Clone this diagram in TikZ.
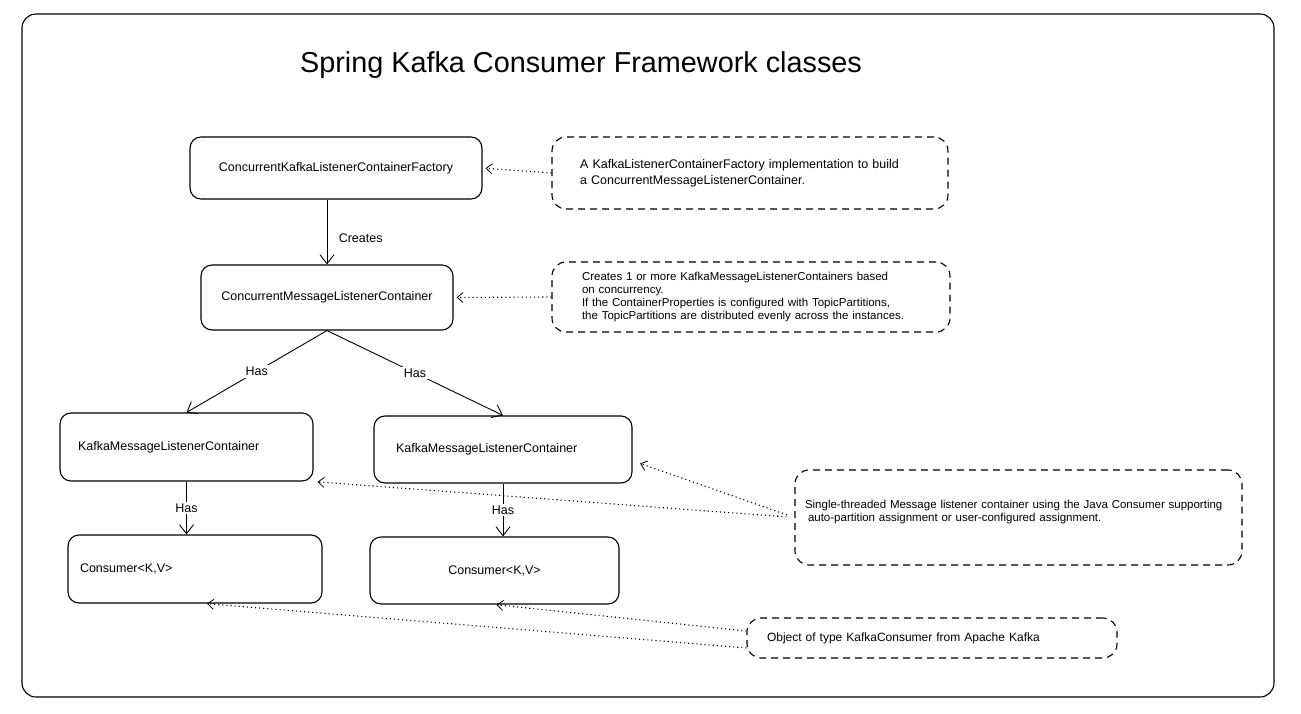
\documentclass[tikz,border=0pt]{standalone}
\usepackage{fontspec}
\setmainfont{Liberation Sans}
\usetikzlibrary{arrows.meta}
\begin{document}
\begin{tikzpicture}[x=1pt,y=1pt,
    cls/.style={draw, line width=1.1pt, rounded corners=11pt, inner sep=0pt, font=\fontsize{12.5}{15}\selectfont},
    note/.style={draw, line width=1.1pt, dash pattern=on 7pt off 5pt, rounded corners=14pt, align=left, inner ysep=0pt},
    has/.style={line width=0.9pt, -{Straight Barb[length=9pt,width=14pt]}},
    ref/.style={line width=1.1pt, dash pattern=on 1.1pt off 3pt, -{Straight Barb[length=6pt,width=10pt,line width=0.8pt]}},
    lbl/.style={fill=white, inner sep=2pt, font=\fontsize{12.5}{15}\selectfont}]
    \useasboundingbox (0,0) rectangle (1301,-714);
    \draw[line width=1.1pt, rounded corners=14pt] (22,-14) rectangle (1274,-697);
    \node[font=\fontsize{28.8}{34}\selectfont] (title) at (581,-65) {Spring Kafka Consumer Framework classes};
    \node[cls, minimum width=292pt, minimum height=62pt] (factory) at (336,-168) {ConcurrentKafkaListenerContainerFactory};
    \node[cls, minimum width=252pt, minimum height=65pt] (cmlc) at (327,-297.5) {ConcurrentMessageListenerContainer};
    \node[cls, inner xsep=18pt, text width=217pt, minimum height=68pt] (kmlcL) at (186.5,-447) {KafkaMessageListenerContainer};
    \node[cls, inner xsep=22pt, text width=214pt, minimum height=67pt] (kmlcR) at (503,-449.5) {KafkaMessageListenerContainer};
    \node[cls, inner xsep=12pt, text width=230pt, minimum height=68pt] (consL) at (195,-569) {Consumer<K,V>};
    \node[cls, minimum width=249pt, minimum height=67pt] (consR) at (494.5,-570.5) {Consumer<K,V>};
    \node[note, inner xsep=28pt, text width=340pt, minimum height=72pt, font=\fontsize{12.5}{16}\selectfont] (note1) at (750,-173)
        {A KafkaListenerContainerFactory implementation to build\\a ConcurrentMessageListenerContainer.};
    \node[note, inner xsep=30pt, text width=338pt, minimum height=70pt, font=\fontsize{11.5}{12.7}\selectfont] (note2) at (751,-297)
        {Creates 1 or more KafkaMessageListenerContainers based\\on concurrency.\\If the ContainerProperties is configured with TopicPartitions,\\the TopicPartitions are distributed evenly across the instances.};
    \node[note, inner xsep=10pt, text width=427pt, minimum height=95pt, font=\fontsize{11.5}{13}\selectfont] (note3) at (1018.5,-517.5)
        {Single-threaded Message listener container using the Java Consumer supporting\\\hspace*{3pt}auto-partition assignment or user-configured assignment.\\\mbox{}};
    \node[note, inner xsep=20pt, text width=330pt, minimum height=40pt, font=\fontsize{12}{14}\selectfont] (note4) at (932,-638)
        {Object of type KafkaConsumer from Apache Kafka};
    \draw[has] (factory.south -| cmlc.north) -- (cmlc.north) node[pos=0.6, right=8pt, font=\fontsize{12.5}{15}\selectfont] (creates) {Creates};
    \draw[has] (cmlc.south) -- (kmlcL.north) node[lbl, midway] (hasA) {Has};
    \draw[has] (cmlc.south) -- (kmlcR.north) node[lbl, midway] (hasB) {Has};
    \draw[has] (kmlcL.south) -- (kmlcL.south |- consL.north) node[lbl, midway] (hasC) {Has};
    \draw[has] (kmlcR.south) -- (kmlcR.south |- consR.north) node[lbl, midway] (hasD) {Has};
    \draw[ref, shorten >=3pt] (note1.west) -- (factory.east);
    \draw[ref, shorten >=3pt] (note2.west) -- (cmlc.east);
    \draw[ref, shorten <=8pt, shorten >=8pt] (note3.west) -- (kmlcR.-5);
    \draw[ref, shorten <=8pt, shorten >=4pt] (note3.west) -- (kmlcL.south east);
    \draw[ref, shorten >=2pt] ([yshift=7pt]note4.west) -- (consR.south);
    \draw[ref, shorten >=2pt] ([yshift=-10pt]note4.west) -- ([xshift=10pt]consL.south);
\end{tikzpicture}
\end{document}
